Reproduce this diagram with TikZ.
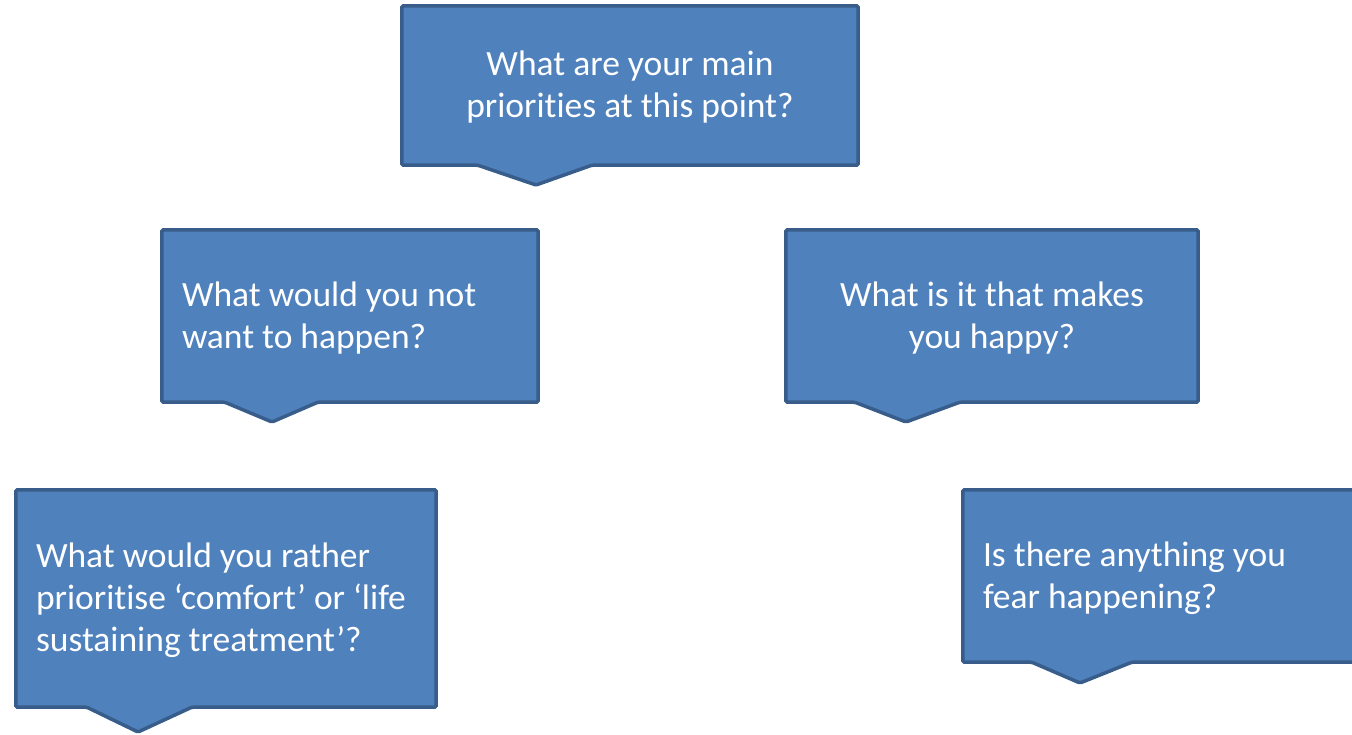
\documentclass[tikz,border=0pt]{standalone}
\usepackage{fontspec}
\setmainfont[Ligatures=NoCommon]{Carlito}
\usepackage{xcolor}
\usetikzlibrary{backgrounds}
\definecolor{qfill}{HTML}{4F81BD}
\definecolor{qline}{HTML}{385D8A}
\newcommand{\qfont}{\fontsize{35.5}{42}\selectfont}

\begin{document}
\begin{tikzpicture}[x=1pt,y=-1pt,
		qbox/.style={text=white,font=\qfont,inner sep=0pt,yshift=-2pt},
		qleft/.style={qbox,inner xsep=20pt,align=flush left},
		qshape/.style={fill=qfill,draw=qline,line width=3.5pt,rounded corners=1.5pt}]
	\useasboundingbox (0,0) rectangle (1352,734);
	% question boxes
	\node[qbox,align=center,minimum width=456pt,minimum height=159pt] (prio) at (630,85.5) {What are your main\\priorities at this point?};
	\node[qleft,text width=336pt,minimum height=172pt] (notwant) at (350,316) {What would you not\\want to happen?};
	\node[qbox,align=center,minimum width=412pt,minimum height=172pt] (happy) at (992,316) {What is it that makes\\you happy?};
	\node[qleft,text width=380pt,minimum height=217pt] (rather) at (226,598.5) {What would you rather\\prioritise ‘comfort’ or ‘life\\sustaining treatment’?};
	\node[qleft,text width=382pt,minimum height=172pt] (fear) at (1174,576) {Is there anything you\\fear happening?};
	% callout outlines
	\begin{scope}[on background layer]
		\draw[qshape] ([yshift=2pt]prio.north west) -- ([yshift=2pt]prio.north east) -- ([yshift=2pt]prio.south east) -- ([shift={(190pt,2pt)}]prio.south west) -- (536,185) -- ([shift={(76pt,2pt)}]prio.south west) -- ([yshift=2pt]prio.south west) -- cycle;
		\draw[qshape] ([yshift=2pt]notwant.north west) -- ([yshift=2pt]notwant.north east) -- ([yshift=2pt]notwant.south east) -- ([shift={(156pt,2pt)}]notwant.south west) -- (272,422) -- ([shift={(63pt,2pt)}]notwant.south west) -- ([yshift=2pt]notwant.south west) -- cycle;
		\draw[qshape] ([yshift=2pt]happy.north west) -- ([yshift=2pt]happy.north east) -- ([yshift=2pt]happy.south east) -- ([shift={(174pt,2pt)}]happy.south west) -- (906,422) -- ([shift={(69pt,2pt)}]happy.south west) -- ([yshift=2pt]happy.south west) -- cycle;
		\draw[qshape] ([yshift=2pt]rather.north west) -- ([yshift=2pt]rather.north east) -- ([yshift=2pt]rather.south east) -- ([shift={(176pt,2pt)}]rather.south west) -- (138,732) -- ([shift={(71pt,2pt)}]rather.south west) -- ([yshift=2pt]rather.south west) -- cycle;
		\draw[qshape] ([yshift=2pt]fear.north west) -- ([yshift=2pt]fear.north east) -- ([yshift=2pt]fear.south east) -- ([shift={(169pt,2pt)}]fear.south west) -- (1080,683) -- ([shift={(69pt,2pt)}]fear.south west) -- ([yshift=2pt]fear.south west) -- cycle;
	\end{scope}
\end{tikzpicture}
\end{document}
